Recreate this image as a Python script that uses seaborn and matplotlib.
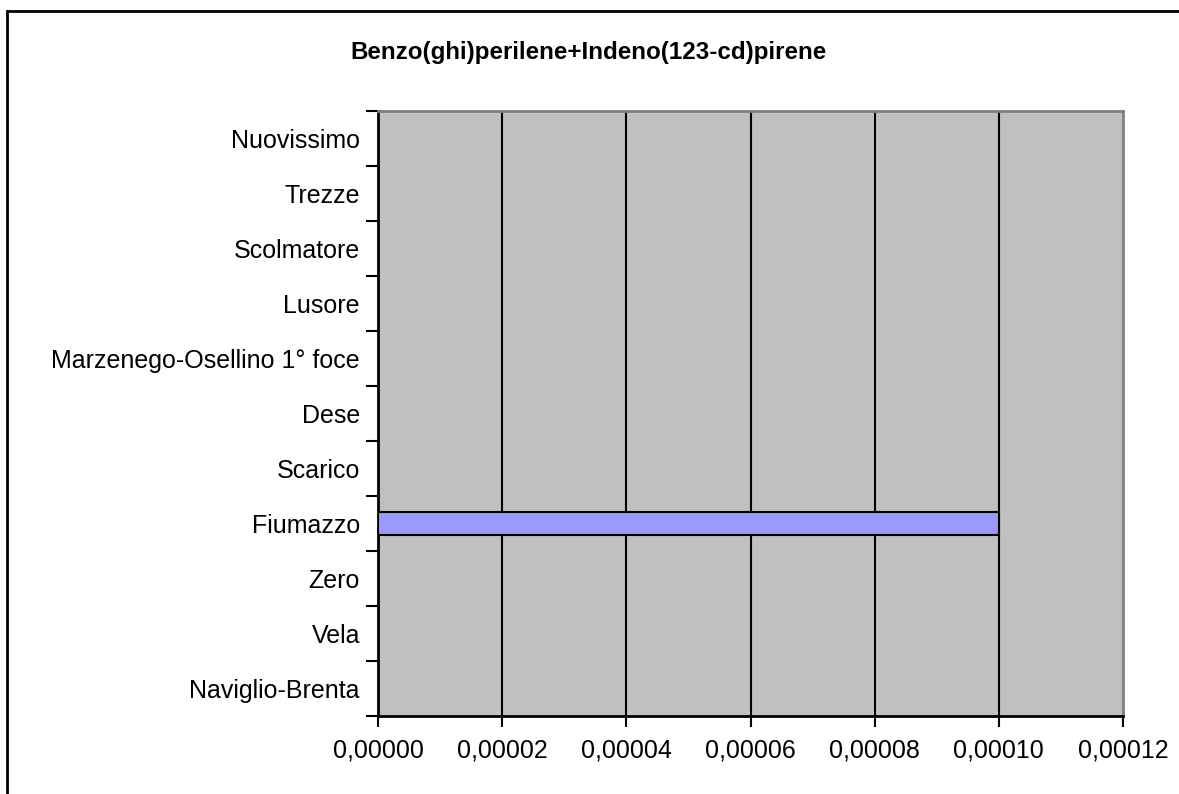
import matplotlib
matplotlib.use("Agg")
import matplotlib.pyplot as plt
from matplotlib.patches import Rectangle
from matplotlib.ticker import FuncFormatter, MultipleLocator
import numpy as np
import pandas as pd
import seaborn as sns

# Sampling stations, listed top to bottom
stations = [
    "Nuovissimo",
    "Trezze",
    "Scolmatore",
    "Lusore",
    "Marzenego-Osellino 1° foce",
    "Dese",
    "Scarico",
    "Fiumazzo",
    "Zero",
    "Vela",
    "Naviglio-Brenta",
]
# Benzo(ghi)perilene + Indeno(123-cd)pirene concentrations
values = [0.0, 0.0, 0.0, 0.0, 0.0, 0.0, 0.0, 0.0001, 0.0, 0.0, 0.0]
x_ticks = [0.0, 0.00002, 0.00004, 0.00006, 0.00008, 0.00010, 0.00012]

df = pd.DataFrame({"stazione": stations, "valore": values})

sns.set_style("white")
plt.rcParams["font.family"] = ["Liberation Sans", "DejaVu Sans"]
plt.rcParams["text.color"] = "black"
plt.rcParams["xtick.color"] = "black"
plt.rcParams["ytick.color"] = "black"

fig = plt.figure(figsize=(11.79, 7.94), dpi=100)
ax = fig.add_axes([378 / 1179, 1 - 716 / 794, (1123 - 378) / 1179, (716 - 111) / 794])
ax.set_facecolor("#C0C0C0")

sns.barplot(data=df, x="valore", y="stazione", order=stations, orient="h",
            color="#9999FF", saturation=1, width=0.42,
            edgecolor="black", linewidth=1.5, ax=ax, zorder=3)

ax.set_xlim(x_ticks[0], x_ticks[-1])
ax.set_ylim(len(stations) - 0.5, -0.5)
ax.set_xticks(x_ticks)
ax.xaxis.set_major_formatter(FuncFormatter(lambda v, p: f"{v:.5f}".replace(".", ",")))

# vertical gridlines
for xv in x_ticks[1:-1]:
    ax.axvline(xv, color="black", lw=1.5, zorder=2)

ax.set_xlabel("")
ax.set_ylabel("")

# category labels at centers, tick marks at category boundaries
ax.yaxis.set_minor_locator(MultipleLocator(1, offset=0.5))
ax.tick_params(axis="y", which="major", length=0, pad=13, labelsize=18,
               labelcolor="black")
ax.tick_params(axis="y", which="minor", left=True, length=9, width=1.5, color="black")
ax.tick_params(axis="x", which="major", bottom=True, length=8, width=1.5,
               color="black", pad=8, labelsize=18, labelcolor="black")

for side in ["left", "bottom"]:
    ax.spines[side].set_color("black")
    ax.spines[side].set_linewidth(2)
for side in ["top", "right"]:
    ax.spines[side].set_visible(True)
    ax.spines[side].set_color("#808080")
    ax.spines[side].set_linewidth(2)

fig.text(589 / 1179, 1 - 52 / 794, "Benzo(ghi)perilene+Indeno(123-cd)pirene",
         ha="center", va="center", fontsize=17.4, fontweight="bold", color="black")

# chart border
fig.add_artist(Rectangle((7 / 1179, -0.1), 1.2, 1 - 11 / 794 + 0.1,
                         transform=fig.transFigure, fill=False,
                         edgecolor="black", linewidth=2))

fig.savefig("out.png", dpi=100)
